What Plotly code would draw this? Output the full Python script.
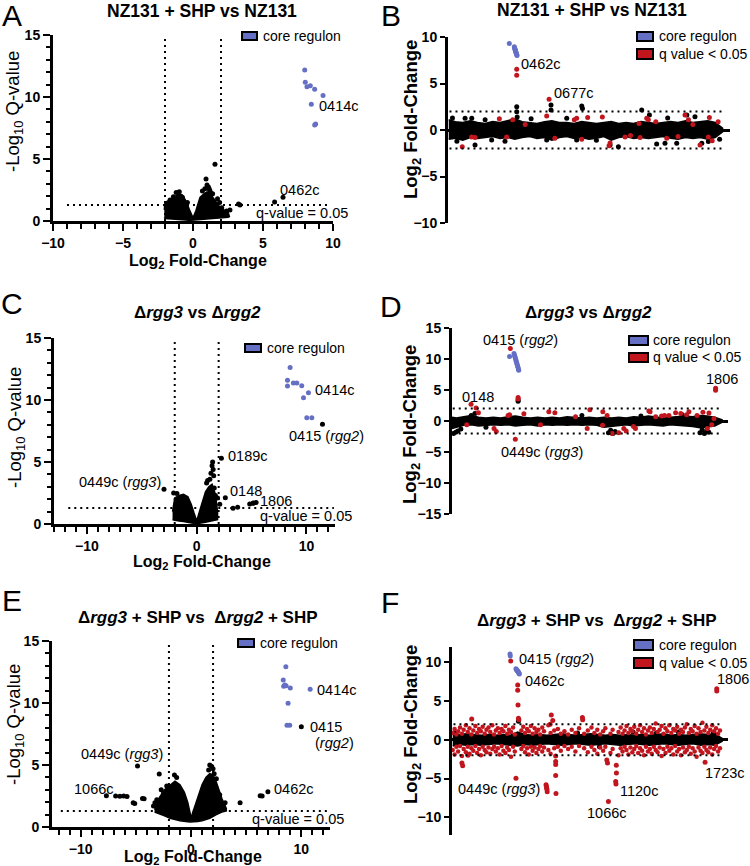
import plotly.graph_objects as go

W, H = 750, 866
FONT = "Arial, Liberation Sans, Helvetica, sans-serif"
BLUE = "#6570C4"
RED = "#C1161E"
BLACK = "#000000"

# ======================= DATA =======================
# ---- Panel A: volcano NZ131 + SHP vs NZ131 (log2 FC, -log10 q)
A_core_fc = [7.98, 8.02, 8.14, 8.38, 8.69, 9.29, 8.45, 8.76, 8.69]
A_core_q = [12.18, 11.18, 10.83, 10.91, 10.62, 10.13, 9.41, 7.82, 7.74]
A_other_fc = [6.43, 5.83, 3.36, 3.25, 2.64, 2.4, 2.05, 1.57, 0.93, 1.0, 1.1, 1.15, 1.2, 0.67,
              -0.98, -0.85, -0.75, -1.64, -1.2, 1.9, 1.75, 1.4, -1.9, -0.4, 0.85, 1.25, -1.4, 2.2]
A_other_q = [1.91, 1.53, 1.29, 1.37, 0.89, 0.8, 1.07, 4.57, 3.39, 2.9, 2.75, 2.6, 2.45, 2.42,
             2.36, 2.0, 1.9, 1.69, 2.3, 1.5, 1.8, 2.2, 1.2, 1.5, 2.6, 2.3, 1.95, 0.6]
A_cloud_fc = [-2.05, -2.0, -1.5, -1.0, -0.7, -0.5, -0.25, 0.0, 0.2, 0.5, 0.8, 1.0, 1.3, 1.6, 2.0, 2.5, 2.6]
A_cloud_top = [0.9, 1.5, 1.8, 2.2, 2.0, 1.6, 0.9, 0.25, 0.8, 1.9, 2.2, 2.35, 2.1, 1.6, 1.0, 0.75, 0.4]
A_cloud_bot = [0.3, 0.2, 0.15, 0.12, 0.1, 0.08, 0.05, 0.02, 0.05, 0.08, 0.1, 0.12, 0.15, 0.2, 0.25, 0.3, 0.35]

# ---- Panel B: NZ131 + SHP vs NZ131 by gene (gene number, log2 FC)
B_core_gene = [413, 447, 449, 451, 453, 455, 457, 459, 461, 463, 465]
B_core_fc = [9.3, 8.95, 8.8, 8.7, 8.6, 8.5, 8.4, 8.3, 8.2, 8.1, 8.0]
B_sig_gene = [463, 463, 681, 96, 159, 182, 346, 395, 436, 665, 851, 867, 941, 901, 1040, 1092, 1085,
              1193, 1287, 1294, 1339, 1350, 1474, 1597, 1620, 1698, 1754, 1761, 1780, 520, 720, 1230,
              1400, 1550, 1650, 1820]
B_sig_fc = [6.52, 5.9, 3.3, -1.8, -0.75, -0.8, 1.2, -0.75, 1.1, 1.5, 1.1, 1.25, 1.35, -1.0, 1.4, -1.4, -1.7,
            -0.75, 0.7, -0.8, 1.25, 1.1, -0.9, 1.6, 1.1, -1.6, -0.75, 1.35, -1.15, 0.6, -0.9, -0.6,
            0.9, -0.7, 0.6, 0.9]
B_other_gene = [160, 182, 463, 463, 466, 694, 694, 901, 906, 800, 867, 1092, 1148, 1305, 1357, 1406,
                1462, 1541, 1609, 1664, 1710, 1754, 115, 294, 384, 665, 30, 60, 250, 560, 1000, 1480, 1830]
B_other_fc = [1.25, -1.6, 2.5, 1.96, 1.4, 2.68, 2.14, 2.57, 2.3, 1.25, -1.07, -1.6, -1.8, 2.14, 1.6, -1.5,
              -1.43, -1.43, 1.6, 1.43, -1.43, -1.25, 1.25, -1.07, -1.2, -1.07, 1.3, -1.2, 1.1, 1.2, -1.1, 1.3, -1.0]
B_band_gene = [5, 50, 100, 150, 200, 250, 300, 350, 400, 450, 500, 550, 600, 650, 700, 750, 800, 850, 900,
               950, 1000, 1050, 1100, 1150, 1200, 1250, 1300, 1350, 1400, 1450, 1500, 1550, 1600, 1650,
               1700, 1750, 1800, 1850]
B_band_hi = [1.1, 0.9, 0.8, 1.0, 0.8, 0.7, 0.9, 0.8, 1.0, 1.2, 0.9, 0.8, 0.7, 0.9, 1.0, 0.8, 0.8, 0.7, 0.9,
             0.8, 0.7, 0.8, 0.9, 0.7, 0.8, 0.7, 0.9, 0.8, 0.7, 0.8, 0.9, 0.8, 1.0, 0.8, 0.9, 1.0, 0.8, 0.2]
B_band_lo = [-1.0, -0.9, -1.1, -0.8, -0.9, -0.8, -0.7, -0.9, -0.8, -1.0, -0.8, -0.7, -0.9, -0.8, -1.1, -0.8,
             -0.7, -0.9, -0.8, -1.0, -0.9, -0.7, -1.1, -0.8, -0.7, -0.9, -0.8, -0.9, -0.8, -0.7, -0.9, -1.0,
             -0.8, -0.9, -0.8, -1.0, -0.8, -0.2]

# ---- Panel C: volcano Δrgg3 vs Δrgg2
C_core_fc = [8.51, 8.27, 8.27, 8.81, 9.12, 9.57, 9.73, 10.18, 10.03, 10.49]
C_core_q = [12.62, 11.6, 11.12, 11.38, 11.38, 11.14, 10.18, 10.58, 8.57, 8.57]
C_other_fc = [11.46, 2.25, -2.98, 2.61, 5.17, 5.41, 4.83, 5.13, 3.31, 3.73, 1.45, 1.4, 1.5, 1.3, 1.2, 1.55,
              1.0, 0.9, 1.7, 1.9, -2.1, 1.6, -1.8, 2.1]
C_other_q = [8.04, 5.3, 2.8, 2.12, 1.69, 1.74, 1.61, 1.67, 1.27, 1.35, 5.0, 4.7, 4.4, 4.1, 3.6, 3.9,
             3.5, 3.3, 2.3, 2.1, 2.5, 2.9, 2.45, 1.6]
C_cloud_fc = [-2.2, -2.0, -1.6, -1.2, -0.8, -0.5, -0.25, 0.0, 0.25, 0.5, 0.8, 1.1, 1.4, 1.7, 1.9]
C_cloud_top = [1.0, 2.1, 2.3, 2.4, 2.2, 1.6, 0.9, 0.25, 1.0, 1.8, 2.6, 3.0, 3.2, 2.4, 1.0]
C_cloud_bot = [0.35, 0.3, 0.25, 0.2, 0.15, 0.1, 0.05, 0.02, 0.05, 0.1, 0.15, 0.2, 0.25, 0.3, 0.35]

# ---- Panel D: Δrgg3 vs Δrgg2 by gene
D_core_gene = [410, 440, 443, 446, 449, 452, 455, 458, 461, 464, 467, 470, 472]
D_core_fc = [10.4, 10.9, 10.65, 10.4, 10.15, 9.9, 9.65, 9.4, 9.15, 8.9, 8.65, 8.4, 8.2]
D_sig_gene = [415, 468, 468, 149, 183, 199, 1806, 1806, 449, 320, 305, 400, 410, 507, 676, 717, 857, 936,
              954, 1042, 1071, 1105, 1184, 1263, 1250, 1354, 1362, 1400, 1490, 1535, 1570, 1625, 1610,
              1761, 1750, 1795, 1040, 620, 120, 1150, 1200, 1440, 1460, 1680, 1720, 1780]
D_sig_fc = [11.7, 3.8, 3.55, 2.7, 2.1, 1.35, 5.3, 4.95, -2.96, -1.7, -1.2, 0.9, 1.0, 1.15, 1.5, 1.35, 0.7,
            -1.2, 1.8, 1.5, 0.9, -2.0, -1.2, -1.2, -0.9, 1.6, 1.5, 0.7, 0.9, 1.35, 1.2, 1.5, 1.0,
            1.3, -1.2, 0.4, -0.7, -0.6, -0.6, -1.9, -1.6, 0.8, 0.9, 0.9, 1.4, -0.6]
D_other_gene = [468, 468, 175, 150, 30, 45, 60, 80, 1080, 1095, 1110, 1125, 1700, 1715, 1730, 1745, 1760,
                900, 1300, 1580, 250]
D_other_fc = [3.4, 3.2, 1.2, 0.9, -2.0, -1.8, -1.6, -1.3, -1.9, -1.5, -2.0, -1.7, -1.9, -1.4, -2.0, -1.6,
              -1.8, 0.9, 0.8, 1.0, -1.0]
D_band_gene = [20, 50, 100, 150, 200, 250, 300, 350, 400, 450, 500, 550, 600, 650, 700, 750, 800, 850, 900,
               950, 1000, 1050, 1100, 1150, 1200, 1250, 1300, 1350, 1400, 1450, 1500, 1550, 1600, 1650,
               1700, 1750, 1800, 1850]
D_band_hi = [0.6, 0.5, 0.7, 0.9, 0.6, 0.5, 0.6, 0.5, 0.7, 0.8, 0.6, 0.5, 0.6, 0.5, 0.6, 0.5, 0.7, 0.6, 0.5,
             0.6, 0.5, 0.6, 0.5, 0.6, 0.5, 0.7, 0.6, 0.8, 0.6, 0.5, 0.6, 0.7, 0.8, 0.7, 0.9, 0.8, 0.6, 0.2]
D_band_lo = [-1.2, -1.0, -0.7, -0.6, -0.8, -0.7, -0.6, -0.7, -0.6, -0.8, -0.7, -0.6, -0.8, -0.6, -0.7, -0.6,
             -0.7, -0.6, -0.7, -0.6, -0.7, -1.0, -0.9, -0.7, -0.6, -0.8, -0.7, -0.6, -0.7, -0.8, -0.6, -0.7,
             -0.8, -0.9, -1.1, -1.0, -0.8, -0.2]

# ---- Panel E: volcano Δrgg3 + SHP vs Δrgg2 + SHP
E_core_fc = [8.6, 8.36, 8.5, 8.4, 8.62, 9.0, 10.8, 8.8, 8.7, 8.95]
E_core_q = [12.93, 11.85, 11.45, 11.35, 11.4, 11.2, 11.1, 9.97, 8.21, 8.21]
E_other_fc = [10.0, -4.85, -2.88, -7.67, -6.83, -6.45, -6.1, -5.8, -5.24, -5.1, -4.4, -4.25, -3.27, -3.1,
              -2.7, 6.97, 6.27, 6.45, 4.45, 3.09, 2.9, 1.7, 1.85, 1.6, 2.0, 2.1, 1.8, 2.3, -1.5, -1.3, -2.2,
              -2.5, 2.6, -3.4]
E_other_q = [8.08, 4.92, 4.27, 2.53, 2.5, 2.48, 2.5, 2.45, 1.96, 1.9, 2.3, 2.28, 1.96, 2.2, 3.0, 2.85, 2.52,
             2.5, 1.96, 1.96, 1.8, 5.0, 4.9, 4.6, 4.7, 4.3, 4.0, 3.9, 4.2, 4.0, 3.3, 2.7, 2.6, 1.7]
E_cloud_fc = [-3.3, -3.0, -2.4, -1.9, -1.45, -1.0, -0.6, -0.3, -0.1, 0.0, 0.1, 0.35, 0.6, 1.0, 1.35, 1.7,
              2.0, 2.3, 2.8, 3.2]
E_cloud_top = [1.4, 2.2, 3.0, 3.4, 3.7, 3.4, 2.8, 2.0, 1.2, 0.8, 1.0, 1.7, 2.4, 3.4, 4.0, 4.3, 4.2, 3.6, 2.3, 1.5]
E_cloud_bot = [1.2, 1.1, 0.9, 0.7, 0.6, 0.5, 0.45, 0.42, 0.4, 0.4, 0.4, 0.42, 0.45, 0.5, 0.6, 0.7, 0.85, 1.0,
               1.2, 1.3]

# ---- Panel F: Δrgg3 + SHP vs Δrgg2 + SHP by gene
F_core_gene = [397, 399, 438, 441, 444, 447, 450, 453, 456, 459, 461]
F_core_fc = [11.1, 10.85, 9.2, 9.1, 9.0, 8.95, 8.85, 8.8, 8.7, 8.6, 8.5]
F_sig_gene = [402, 450, 450, 452, 455, 458, 1813, 1813, 438, 644, 646, 648, 650, 652, 710, 710, 710, 710,
              712, 680, 690, 672, 1071, 1121, 1123, 1125, 1126, 1060, 1065, 1733, 135, 73, 68, 110, 893, 895]
F_sig_fc = [10.2, 7.1, 6.4, 4.5, 2.8, 2.6, 6.6, 6.3, -4.95, -5.8, -6.0, -6.2, -6.4, -6.7, -2.1, -2.8, -3.2,
            -4.6, -6.95, 3.2, 2.5, 2.0, -7.96, -5.4, -5.7, -3.3, -4.3, -2.6, -3.0, -2.9, 2.7, -3.35, -3.0,
            -2.0, 2.9, 2.6]
F_cloud = [  # (gene, upper point, lower point) for q < 0.05 genes around the band
    (5, 0.9, -1.3), (18, 1.4, -1.9), (30, 0.7, -0.9), (42, 1.1, -1.5), (55, 1.6, -0.8), (68, 0.8, -2.1),
    (80, 1.3, -1.2), (95, 1.9, -1.6), (108, 1.0, -0.9), (120, 1.5, -1.8), (133, 0.7, -1.1), (146, 1.2, -1.4),
    (160, 1.8, -0.8), (172, 0.9, -1.7), (185, 1.4, -1.2), (198, 1.1, -2.0), (210, 1.7, -0.9), (224, 0.8, -1.3),
    (236, 1.3, -1.6), (250, 1.6, -1.0), (262, 1.0, -1.8), (276, 1.9, -1.2), (288, 0.7, -0.9), (300, 1.2, -1.5),
    (314, 1.5, -1.1), (326, 0.9, -1.9), (340, 1.4, -0.8), (352, 1.1, -1.4), (366, 1.8, -1.7), (378, 0.8, -1.0),
    (390, 1.3, -1.3), (404, 1.0, -2.2), (418, 1.6, -0.9), (430, 0.7, -1.5), (475, 1.2, -1.2), (488, 1.7, -0.8),
    (500, 0.9, -1.6), (514, 1.4, -1.1), (526, 1.1, -1.9), (540, 1.8, -0.9), (552, 0.8, -1.4), (566, 1.5, -1.0),
    (578, 1.0, -1.7), (592, 1.3, -1.2), (604, 0.7, -0.8), (618, 1.6, -1.5), (630, 1.1, -1.0), (660, 1.9, -1.3),
    (675, 0.9, -1.8), (700, 1.2, -1.1), (725, 1.4, -0.9), (745, 0.8, -1.4), (770, 1.1, -0.8), (795, 0.7, -1.2),
    (820, 1.3, -0.9), (845, 0.9, -1.5), (870, 1.5, -0.8), (905, 0.8, -1.1), (930, 1.2, -1.6), (955, 1.6, -0.9),
    (975, 0.9, -1.3), (995, 1.3, -1.8), (1015, 0.7, -1.0), (1035, 1.1, -1.4), (1050, 1.5, -0.9),
    (1085, 0.8, -1.7), (1100, 1.3, -1.2), (1140, 1.0, -2.0), (1155, 1.6, -1.1), (1168, 0.8, -1.5),
    (1182, 1.2, -0.9), (1195, 1.8, -1.3), (1208, 0.9, -1.9), (1222, 1.4, -1.0), (1235, 1.1, -1.6),
    (1248, 1.7, -1.2), (1262, 0.8, -0.8), (1275, 1.3, -1.7), (1288, 1.9, -1.1), (1302, 1.0, -1.4),
    (1315, 1.5, -2.0), (1328, 0.7, -0.9), (1342, 1.2, -1.5), (1355, 1.6, -1.2), (1368, 0.9, -1.8),
    (1382, 1.4, -0.9), (1395, 2.1, -1.3), (1408, 1.0, -1.6), (1422, 1.3, -1.0), (1435, 1.8, -2.1),
    (1448, 0.8, -1.2), (1462, 1.5, -1.7), (1475, 1.1, -0.9), (1488, 1.9, -1.4), (1502, 0.9, -1.1),
    (1515, 1.4, -1.9), (1528, 1.2, -0.8), (1542, 1.7, -1.5), (1555, 0.8, -1.2), (1568, 1.3, -2.0),
    (1582, 1.0, -1.0), (1595, 1.6, -1.6), (1608, 2.0, -1.3), (1622, 0.9, -0.9), (1635, 1.4, -1.8),
    (1648, 1.1, -1.1), (1662, 1.8, -1.5), (1675, 0.8, -2.2), (1688, 1.5, -1.0), (1702, 1.0, -1.4),
    (1715, 2.2, -1.7), (1728, 1.2, -0.9), (1742, 1.7, -1.3), (1755, 0.9, -1.6), (1768, 1.3, -1.0),
    (1782, 1.9, -1.9), (1795, 1.1, -1.2), (1808, 1.5, -0.8), (1822, 0.8, -1.5), (1835, 1.2, -1.1),
]
F_other_gene = [455, 1240, 1400, 20, 860, 1010, 1550, 1790]
F_other_fc = [2.4, 1.0, 0.9, 0.9, 0.9, -0.9, 1.0, 0.9]
F_band_gene = [5, 50, 100, 150, 200, 250, 300, 350, 400, 450, 500, 550, 600, 650, 700, 750, 800, 850, 900,
               950, 1000, 1050, 1100, 1150, 1200, 1250, 1300, 1350, 1400, 1450, 1500, 1550, 1600, 1650,
               1700, 1750, 1800, 1850]
F_band_hi = [0.9, 0.7, 0.8, 0.7, 0.6, 0.7, 0.6, 0.7, 0.6, 1.0, 0.7, 0.6, 0.7, 0.6, 0.7, 0.8, 0.7, 0.6, 0.7,
             0.8, 0.7, 0.6, 0.7, 0.6, 0.7, 0.6, 0.7, 0.6, 0.7, 0.8, 0.6, 0.7, 0.6, 0.7, 0.8, 0.7, 0.8, 0.2]
F_band_lo = [-0.8, -0.6, -0.7, -0.6, -0.7, -0.6, -0.5, -0.6, -0.7, -0.8, -0.6, -0.7, -0.6, -0.5, -0.6, -0.7,
             -0.6, -0.5, -0.6, -0.7, -0.6, -0.5, -0.6, -0.7, -0.6, -0.5, -0.6, -0.7, -0.6, -0.5, -0.6, -0.7,
             -0.6, -0.5, -0.7, -0.6, -0.7, -0.2]

# ======================= FIGURE =======================
fig = go.Figure()
MS = 5


def pts(x, y, color, ax, size=MS):
    xa, ya = ax
    fig.add_trace(go.Scatter(x=x, y=y, mode="markers", xaxis=xa, yaxis=ya,
                             marker=dict(color=color, size=size, line=dict(width=0)),
                             showlegend=False, hoverinfo="skip"))


def cloud(x, top, bot, ax):
    xa, ya = ax
    fig.add_trace(go.Scatter(x=list(x) + list(x)[::-1], y=list(top) + list(bot)[::-1],
                             mode="lines", fill="toself", fillcolor=BLACK,
                             line=dict(color=BLACK, width=1.5), xaxis=xa, yaxis=ya,
                             showlegend=False, hoverinfo="skip"))


AX = {"A": ("x", "y"), "B": ("x2", "y2"), "C": ("x3", "y3"),
      "D": ("x4", "y4"), "E": ("x5", "y5"), "F": ("x6", "y6")}

# A
cloud(A_cloud_fc, A_cloud_top, A_cloud_bot, AX["A"])
pts(A_other_fc, A_other_q, BLACK, AX["A"])
pts(A_core_fc, A_core_q, BLUE, AX["A"])
# B
cloud(B_band_gene, B_band_hi, B_band_lo, AX["B"])
pts(B_other_gene, B_other_fc, BLACK, AX["B"])
pts(B_sig_gene, B_sig_fc, RED, AX["B"])
pts(B_core_gene, B_core_fc, BLUE, AX["B"])
# C
cloud(C_cloud_fc, C_cloud_top, C_cloud_bot, AX["C"])
pts(C_other_fc, C_other_q, BLACK, AX["C"])
pts(C_core_fc, C_core_q, BLUE, AX["C"])
# D
cloud(D_band_gene, D_band_hi, D_band_lo, AX["D"])
pts(D_other_gene, D_other_fc, BLACK, AX["D"])
pts(D_sig_gene, D_sig_fc, RED, AX["D"])
pts(D_core_gene, D_core_fc, BLUE, AX["D"])
# E
cloud(E_cloud_fc, E_cloud_top, E_cloud_bot, AX["E"])
pts(E_other_fc, E_other_q, BLACK, AX["E"])
pts(E_core_fc, E_core_q, BLUE, AX["E"])
# F
cloud(F_band_gene, F_band_hi, F_band_lo, AX["F"])
pts(F_other_gene, F_other_fc, BLACK, AX["F"])
fc_x = [g for g, u, d in F_cloud] + [g for g, u, d in F_cloud]
fc_y = [u for g, u, d in F_cloud] + [d for g, u, d in F_cloud]
pts(fc_x, fc_y, RED, AX["F"], size=4.5)
pts(F_sig_gene, F_sig_fc, RED, AX["F"])
pts(F_core_gene, F_core_fc, BLUE, AX["F"])


def fx(px):
    return px / W


def fy(py):
    return 1 - py / H


TICKFONT = dict(family=FONT, size=14, color="black", weight="bold")

volcano_x = dict(showline=True, linewidth=3, linecolor="black", ticks="outside", ticklen=7,
                 tickwidth=2, tickcolor="black", showgrid=False, zeroline=False, tickfont=TICKFONT,
                 automargin=False,
                 minor=dict(dtick=1, ticks="outside", ticklen=5, tickwidth=2, tickcolor="black", showgrid=False))
volcano_y = dict(showline=True, linewidth=3, linecolor="black", ticks="outside", ticklen=7,
                 tickwidth=2, tickcolor="black", showgrid=False, zeroline=False, tickfont=TICKFONT,
                 range=[0, 15], dtick=5, automargin=False,
                 minor=dict(dtick=1, ticks="outside", ticklen=4, tickwidth=2, tickcolor="black", showgrid=False))
gene_x = dict(visible=False, showgrid=False, zeroline=False, automargin=False)
gene_y = dict(showline=True, linewidth=3, linecolor="black", ticks="outside", ticklen=5,
              tickwidth=2, tickcolor="black", showgrid=False, zeroline=True, zerolinewidth=2.5,
              zerolinecolor="black", tickfont=TICKFONT, dtick=5, automargin=False)

layout = dict(
    template="none",
    width=W, height=H, margin=dict(l=0, r=0, t=0, b=0, pad=0, autoexpand=False), autosize=False,
    plot_bgcolor="white", paper_bgcolor="white", showlegend=False,
    font=dict(family=FONT, color="black"),
    xaxis=dict(volcano_x, domain=[fx(53), fx(333)], range=[-10, 10], dtick=5, anchor="y"),
    yaxis=dict(volcano_y, domain=[fy(221), fy(35)], anchor="x"),
    xaxis2=dict(gene_x, domain=[fx(448), fx(730)], range=[0, 1900], anchor="y2"),
    yaxis2=dict(gene_y, domain=[fy(223), fy(37)], range=[-10, 10], anchor="x2"),
    xaxis3=dict(volcano_x, domain=[fx(54), fx(335)], range=[-13, 12.6], dtick=10, anchor="y3"),
    yaxis3=dict(volcano_y, domain=[fy(524), fy(338)], anchor="x3"),
    xaxis4=dict(gene_x, domain=[fx(452), fx(728)], range=[20, 1890], anchor="y4"),
    yaxis4=dict(gene_y, domain=[fy(514), fy(328)], range=[-15, 15], anchor="x4"),
    xaxis5=dict(volcano_x, domain=[fx(52), fx(330)], range=[-12.6, 12.6], dtick=10, anchor="y5"),
    yaxis5=dict(volcano_y, domain=[fy(827), fy(641)], anchor="x5"),
    xaxis6=dict(gene_x, domain=[fx(452), fx(728)], range=[0, 1890], anchor="y6"),
    yaxis6=dict(gene_y, domain=[fy(835), fy(647)], range=[-12.3, 12], tickvals=[-10, -5, 0, 5, 10], anchor="x6"),
)
fig.update_layout(**layout)

# ---- reference lines (dotted)
DOT = dict(color="black", width=2, dash="2px,4px")
shapes = []
for xa, ya, x0, x1 in [("x", "y", -9.0, 9.8), ("x3", "y3", -11.7, 12.5), ("x5", "y5", -11.8, 12.5)]:
    for v in (-2, 2):
        shapes.append(dict(type="line", xref=xa, yref=ya, x0=v, x1=v, y0=0, y1=15, line=DOT))
    shapes.append(dict(type="line", xref=xa, yref=ya, x0=x0, x1=x1, y0=1.3, y1=1.3, line=DOT))
for xa, ya, x0, x1 in [("x2", "y2", 10, 1855), ("x4", "y4", 25, 1840), ("x6", "y6", 10, 1835)]:
    for v in (-2, 2):
        shapes.append(dict(type="line", xref=xa, yref=ya, x0=x0, x1=x1, y0=v, y1=v, line=DOT))


# ---- manual legends
def legend_box(x0, y0, x1, y1, color):
    shapes.append(dict(type="rect", xref="paper", yref="paper", x0=fx(x0), x1=fx(x1), y0=fy(y1), y1=fy(y0),
                       fillcolor=color, line=dict(color="black", width=2)))


anns = []


def ptext(txt, px, py, size, xanchor="center", bold=False, angle=0):
    anns.append(dict(text=txt, xref="paper", yref="paper", x=fx(px), y=fy(py), showarrow=False,
                     xanchor=xanchor, yanchor="middle", textangle=angle,
                     font=dict(family=FONT, size=size, color="black", weight="bold" if bold else "normal")))


legend_box(242, 32, 257, 40, BLUE); ptext("core regulon", 261, 36, 14, "left")
legend_box(245, 344, 261, 352, BLUE); ptext("core regulon", 265, 348, 14, "left")
legend_box(238, 639, 254, 647, BLUE); ptext("core regulon", 258, 643, 14, "left")
legend_box(637, 32, 653, 41, BLUE); ptext("core regulon", 657, 36, 14, "left")
legend_box(637, 49, 653, 59, RED); ptext("q value &lt; 0.05", 657, 54, 14, "left")
legend_box(629, 336, 648, 345, BLUE); ptext("core regulon", 651, 340, 14, "left")
legend_box(629, 353, 648, 362, RED); ptext("q value &lt; 0.05", 651, 357, 14, "left")
legend_box(634, 640, 653, 650, BLUE); ptext("core regulon", 657, 645, 14, "left")
legend_box(634, 658, 653, 668, RED); ptext("q value &lt; 0.05", 657, 663, 14, "left")

# panel letters
for L, px, py in [("A", 12, 16), ("B", 391, 16), ("C", 12, 303), ("D", 391, 306), ("E", 12, 600), ("F", 390, 602)]:
    ptext(L, px, py, 30)

# titles
ptext("<b>NZ131 + SHP vs NZ131</b>", 202, 11, 17.5)
ptext("<b>NZ131 + SHP vs NZ131</b>", 592, 10, 17.5)
ptext("<b>Δ<i>rgg3</i> vs Δ<i>rgg2</i></b>", 197, 312, 17)
ptext("<b>Δ<i>rgg3</i> vs Δ<i>rgg2</i></b>", 588, 312, 17)
ptext("<b>Δ<i>rgg3</i> + SHP vs  Δ<i>rgg2</i> + SHP</b>", 198, 617, 17)
ptext("<b>Δ<i>rgg3</i> + SHP vs  Δ<i>rgg2</i> + SHP</b>", 597, 620, 17)

# axis titles
for px, py in [(198, 261), (202, 562), (193, 857)]:
    ptext("<b>Log<sub>2</sub> Fold-Change</b>", px, py, 16)
for px, py in [(14, 112), (16, 428), (15, 725)]:
    ptext("-Log<sub>10</sub> Q-value", px, py, 18.5, angle=-90)
for px, py in [(412, 120), (411, 425), (412, 725)]:
    ptext("<b>Log<sub>2</sub> Fold-Change</b>", px, py, 18.5, angle=-90)

# data labels
LABELS = {
    "A": [("0414c", 8.85, 9.3, "left"), ("0462c", 6.05, 2.5, "left"), ("q-value = 0.05", 7.8, 0.62, "center")],
    "B": [("0414c", 411, 10.36, "center"), ("0462c", 478, 7.14, "left"), ("0677c", 699, 3.93, "left")],
    "C": [("0414c", 10.64, 10.8, "left"), ("0415 (<i>rgg2</i>)", 8.2, 7.12, "left"), ("0189c", 2.67, 5.5, "left"),
          ("0449c (<i>rgg3</i>)", -3.1, 3.35, "right"), ("0148", 2.83, 2.7, "left"), ("1806", 5.56, 1.87, "left"),
          ("q-value = 0.05", 10.0, 0.67, "center")],
    "D": [("0415 (<i>rgg2</i>)", 487, 13.0, "center"), ("0148", 198, 3.9, "center"), ("1806", 1847, 6.7, "center"),
          ("0449c (<i>rgg3</i>)", 628, -5.0, "center")],
    "E": [("0414c", 11.23, 11.04, "left"), ("0415", 10.63, 8.08, "left"), ("(<i>rgg2</i>)", 11.08, 6.79, "left"),
          ("0449c (<i>rgg3</i>)", -2.32, 5.87, "right"), ("1066c", -6.84, 3.04, "right"),
          ("0462c", 7.32, 3.1, "left"), ("q-value = 0.05", 9.7, 0.67, "center")],
    "F": [("0414c", 237, 12.4, "center"), ("0415 (<i>rgg2</i>)", 443, 10.4, "left"), ("0462c", 489, 7.6, "left"),
          ("1806", 1801, 7.8, "left"), ("1723c", 1721, -4.26, "left"), ("1120c", 1135, -6.65, "left"),
          ("1066c", 1064, -9.5, "center"), ("0449c (<i>rgg3</i>)", 614, -6.3, "right")],
}
for panel, items in LABELS.items():
    xa, ya = AX[panel]
    for txt, x, y, xan in items:
        anns.append(dict(text=txt, xref=xa, yref=ya, x=x, y=y, showarrow=False, xanchor=xan,
                         yanchor="middle", font=dict(family=FONT, size=14.5, color="black")))

fig.update_layout(shapes=shapes, annotations=anns)
fig.write_html("out.html", include_plotlyjs=True, config={"displayModeBar": False},
               post_script="document.body.style.margin='0';document.body.style.overflow='hidden';")
